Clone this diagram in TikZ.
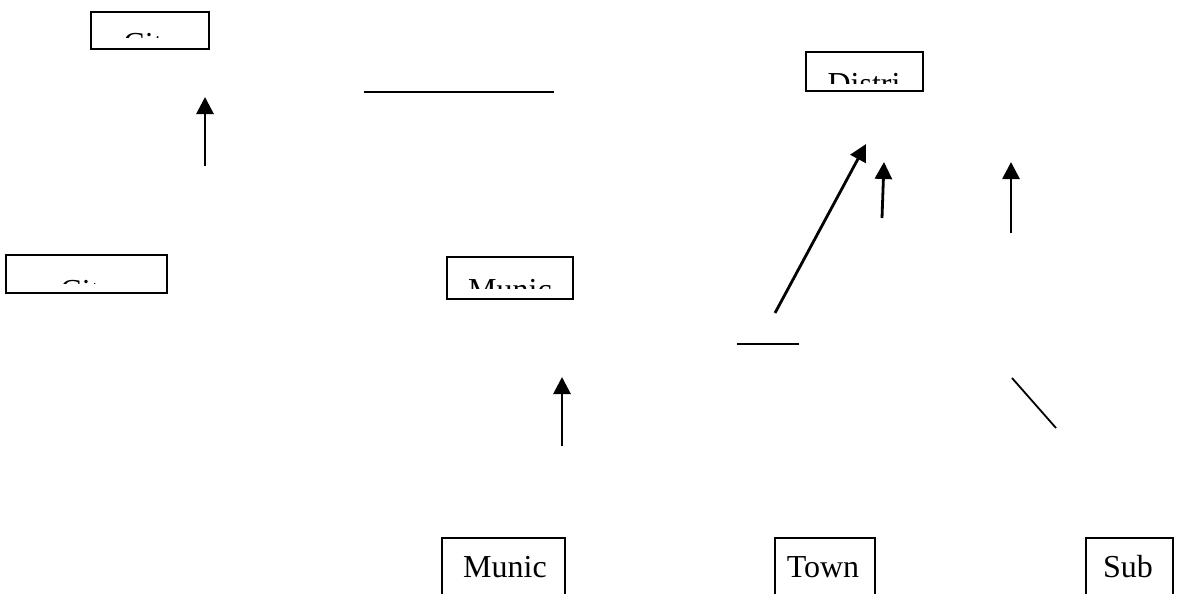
\documentclass[tikz,border=0pt]{standalone}
\usepackage{fontspec}
\setmainfont{Liberation Serif}
\usetikzlibrary{arrows.meta}
\begin{document}
\begin{tikzpicture}[x=1pt,y=-1pt,
  box/.style={draw,line width=1.8pt,inner sep=0pt},
  lbl/.style={inner sep=0pt,anchor=base,font=\fontsize{32}{38}\selectfont},
  conn/.style={line width=2.8pt},
  arr/.style={conn,-{Triangle[length=17pt,width=17pt]}}]
\useasboundingbox (0,0) rectangle (1183,594);
\clip (0,0) rectangle (1183,594);
% boxes
\node[box,minimum width=118pt,minimum height=37pt] (city1) at (150,30.5) {};
\node[box,minimum width=161pt,minimum height=38pt] (city2) at (86.5,274) {};
\node[box,minimum width=126pt,minimum height=42pt] (munic1) at (510,278) {};
\node[box,minimum width=117pt,minimum height=39pt] (distri) at (864.5,71.5) {};
\node[box,minimum width=123pt,minimum height=72pt] (munic2) at (503.5,574) {};
\node[box,minimum width=100pt,minimum height=72pt] (town) at (825,574) {};
\node[box,minimum width=87pt,minimum height=72pt] (sub) at (1129.5,574) {};
% clipped labels
\begin{scope}
  \clip (91,12) rectangle (209,38);
  \node[lbl] (t1) at (151,55) {City};
\end{scope}
\begin{scope}
  \clip (6,255) rectangle (167,283);
  \node[lbl] (t2) at (88,301) {City};
\end{scope}
\begin{scope}
  \clip (447,257) rectangle (573,288);
  \node[lbl] (t3) at (510,300) {Munic};
\end{scope}
\begin{scope}
  \clip (806,52) rectangle (923,83);
  \node[lbl] (t4) at (864,95) {Distri};
\end{scope}
% bottom labels
\node[lbl] (t5) at (505,577) {Munic};
\node[lbl] (t6) at (823,577) {Town};
\node[lbl] (t7) at (1128,577) {Sub};
% connector end points
\coordinate (h1a) at (364,92);  \coordinate (h1b) at (554,92);
\coordinate (a1s) at (205,166); \coordinate (a1e) at (205,97);
\coordinate (a2s) at (562,446); \coordinate (a2e) at (562,377);
\coordinate (a3s) at (775,313); \coordinate (a3e) at (866,144);
\coordinate (a4s) at (882,218); \coordinate (a4e) at (884,162);
\coordinate (a5s) at (1011,233); \coordinate (a5e) at (1011,162);
\coordinate (h2a) at (737,344); \coordinate (h2b) at (799,344);
\coordinate (d1a) at (1012,378); \coordinate (d1b) at (1056,428);
% connectors
\draw[conn] (h1a) -- (h1b);
\draw[arr] (a1s) -- (a1e);
\draw[arr] (a2s) -- (a2e);
\draw[arr] (a3s) -- (a3e);
\draw[arr] (a4s) -- (a4e);
\draw[arr] (a5s) -- (a5e);
\draw[conn] (h2a) -- (h2b);
\draw[line width=1.8pt] (d1a) -- (d1b);
\end{tikzpicture}
\end{document}
